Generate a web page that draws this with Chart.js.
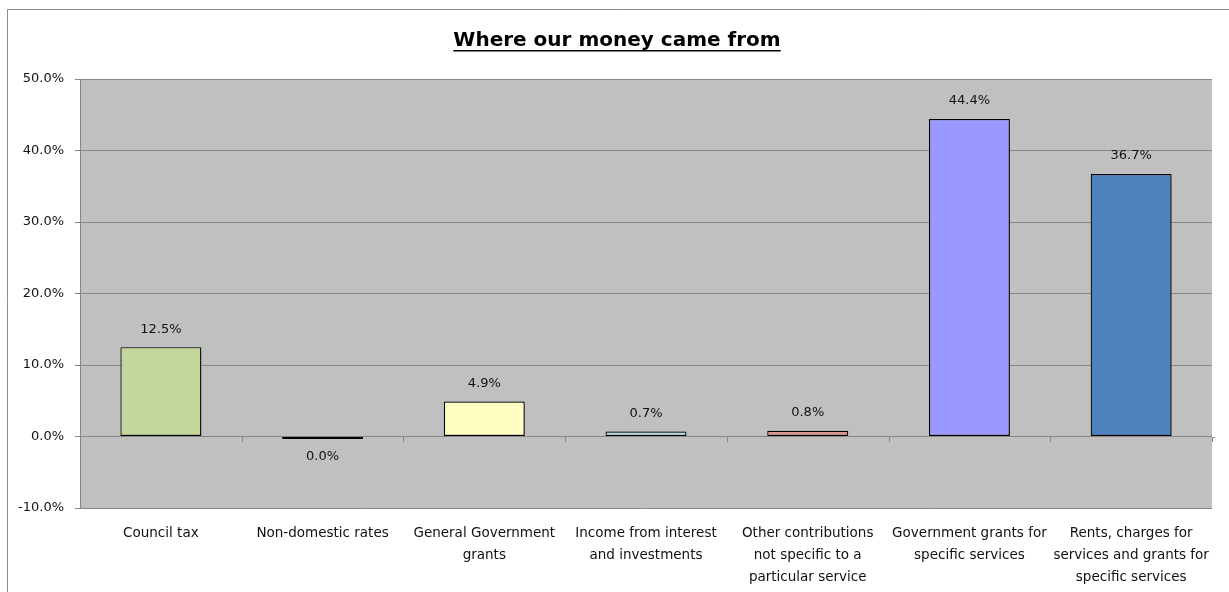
<!DOCTYPE html>
<html>
<head>
<meta charset="utf-8">
<title>Where our money came from</title>
<script src="https://cdn.jsdelivr.net/npm/chart.js@4"></script>
<style>
  html, body { margin: 0; padding: 0; background: #fff; overflow: hidden; }
  #chart { display: block; }
</style>
</head>
<body>
<canvas id="chart" width="1229" height="592"></canvas>
<script>
// income sources, share of total (%)
var categories = [
    'Council tax',
    'Non-domestic rates',
    ['General Government', 'grants'],
    ['Income from interest', 'and investments'],
    ['Other contributions', 'not specific to a', 'particular service'],
    ['Government grants for', 'specific services'],
    ['Rents, charges for', 'services and grants for', 'specific services']
];
var shares = [12.5, -0.03, 4.9, 0.7, 0.8, 44.4, 36.7];
var barColours = ['#C3D69B', '#4F6228', '#FFFFC4', '#B7DEE8', '#D99694', '#9999FF', '#4F81BD'];
var yTicks = [-10, 0, 10, 20, 30, 40, 50];

var chartTitle = 'Where our money came from';
var fontFamily = '"DejaVu Sans", sans-serif';

function pct(v) {
    return (Math.round(v * 10) / 10).toFixed(1) + '%';
}

// outer frame, grey plot background, bar shadows, value labels, title, zero line marks
var decorations = {
    id: 'decorations',
    beforeDraw: function (chart) {
        var a = chart.chartArea, ctx = chart.ctx;
        ctx.save();
        ctx.fillStyle = '#fff';
        ctx.fillRect(0, 0, chart.width, chart.height);
        ctx.strokeStyle = '#8c8c8c';
        ctx.lineWidth = 1;
        ctx.beginPath();
        ctx.moveTo(7.5, chart.height);
        ctx.lineTo(7.5, 9.5);
        ctx.lineTo(chart.width, 9.5);
        ctx.stroke();
        ctx.fillStyle = '#C0C0C0';
        ctx.fillRect(a.left, a.top, a.right - a.left, a.bottom - a.top);
        ctx.restore();
    },
    beforeDatasetsDraw: function (chart) {
        var ctx = chart.ctx;
        ctx.save();
        ctx.shadowColor = 'rgba(0,0,0,0.5)';
        ctx.shadowBlur = 4;
        ctx.shadowOffsetX = 2;
        ctx.shadowOffsetY = 2;
    },
    afterDatasetsDraw: function (chart) {
        var ctx = chart.ctx;
        ctx.restore();

        // zero line tick marks between categories
        var x = chart.scales.x, y = chart.scales.y;
        var y0 = y.getPixelForValue(0);
        ctx.save();
        ctx.strokeStyle = '#878787';
        ctx.lineWidth = 1;
        ctx.beginPath();
        ctx.moveTo(chart.chartArea.right, Math.round(y0) + 0.5);
        ctx.lineTo(chart.chartArea.right + 3, Math.round(y0) + 0.5);
        for (var k = 1; k <= categories.length; k++) {
            var px = k < categories.length
                ? (x.getPixelForValue(k - 1) + x.getPixelForValue(k)) / 2
                : chart.chartArea.right;
            ctx.moveTo(Math.round(px) + 0.5, Math.round(y0));
            ctx.lineTo(Math.round(px) + 0.5, Math.round(y0) + 5);
        }
        ctx.stroke();
        ctx.restore();

        // value labels
        ctx.save();
        ctx.font = '13px ' + fontFamily;
        ctx.fillStyle = '#111';
        ctx.textAlign = 'center';
        ctx.textBaseline = 'middle';
        chart.getDatasetMeta(0).data.forEach(function (bar, i) {
            var v = shares[i];
            if (v >= 0) ctx.fillText(pct(v), bar.x, bar.y - 18);
            else ctx.fillText(pct(v), bar.x, bar.y + 18);
        });
        ctx.restore();
    },
    afterDraw: function (chart) {
        var ctx = chart.ctx;
        ctx.save();
        ctx.font = 'bold 20px ' + fontFamily;
        ctx.fillStyle = '#000';
        ctx.textAlign = 'center';
        ctx.textBaseline = 'alphabetic';
        var cx = 617, by = 46;
        ctx.fillText(chartTitle, cx, by);
        var w = ctx.measureText(chartTitle).width;
        ctx.fillRect(cx - w / 2, by + 4, w, 1.5);
        ctx.restore();
    }
};

var ctx = document.getElementById('chart');
var moneyChart = new Chart(ctx, {
    type: 'bar',
    data: {
        labels: categories,
        datasets: [{
            data: shares,
            backgroundColor: barColours,
            borderColor: '#000',
            borderWidth: 1.2,
            borderSkipped: false,
            minBarLength: 2.5,
            categoryPercentage: 1,
            barPercentage: 0.5
        }]
    },
    options: {
        responsive: false,
        animation: false,
        devicePixelRatio: 1,
        layout: { padding: { top: 79, right: 17, left: 0, bottom: 0 } },
        plugins: {
            legend: { display: false },
            tooltip: { enabled: false },
            title: { display: false }
        },
        scales: {
            y: {
                min: yTicks[0],
                max: yTicks[yTicks.length - 1],
                afterBuildTicks: function (axis) {
                    axis.ticks = yTicks.map(function (v) { return { value: v }; });
                },
                afterFit: function (axis) { axis.width = 80; },
                ticks: {
                    callback: function (v) { return v.toFixed(1) + '%'; },
                    font: { family: fontFamily, size: 13 },
                    color: '#111',
                    padding: 11
                },
                grid: { color: '#878787', tickColor: '#878787', tickLength: 5 },
                border: { color: '#878787' }
            },
            x: {
                afterFit: function (axis) { axis.height = 84; },
                grid: { display: false, drawTicks: false },
                border: { display: false },
                ticks: {
                    autoSkip: false,
                    maxRotation: 0,
                    minRotation: 0,
                    font: { family: fontFamily, size: 13.5, lineHeight: 1.6 },
                    color: '#111',
                    padding: 15
                }
            }
        }
    },
    plugins: [decorations]
});
</script>
</body>
</html>
